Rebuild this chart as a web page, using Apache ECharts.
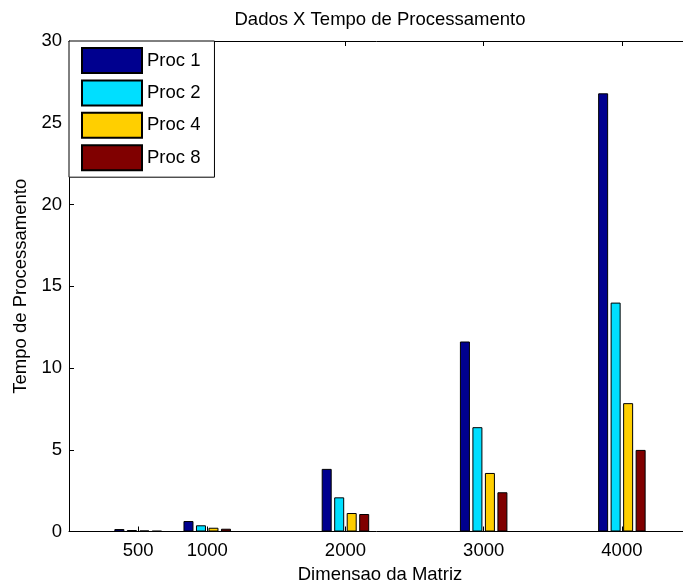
<!DOCTYPE html>
<html>
<head>
<meta charset="utf-8">
<script src="https://cdn.jsdelivr.net/npm/echarts@6/dist/echarts.min.js"></script>
<style>html,body{margin:0;padding:0;background:#fff;overflow:hidden}#c{width:683px;height:584px}</style>
</head>
<body>
<div id="c"></div>
<script>
const dims = [500, 1000, 2000, 3000, 4000];
const seriesNames = ['Proc 1', 'Proc 2', 'Proc 4', 'Proc 8'];
const proc1 = [0.15, 0.64, 3.83, 11.62, 26.8];
const proc2 = [0.09, 0.38, 2.09, 6.38, 14.0];
const proc4 = [0.06, 0.23, 1.13, 3.58, 7.85];
const proc8 = [0.04, 0.17, 1.07, 2.40, 4.99];
const colors = ['#00008F', '#00DFFF', '#FFCF00', '#800000'];

const FONT = 'Liberation Sans, Arial, sans-serif';
const FS = 18.5;
const chart = echarts.init(document.getElementById('c'), null, {renderer: 'canvas'});
const all = [proc1, proc2, proc4, proc8];
const series = all.map((vals, i) => ({
  name: seriesNames[i],
  type: 'bar',
  xAxisIndex: 0, yAxisIndex: 0,
  data: dims.map((d, j) => [d, vals[j]]),
  barWidth: 10,
  barGap: '25%',
  itemStyle: {color: colors[i], borderColor: '#000', borderWidth: 1},
  emphasis: {disabled: true},
  animation: false
}));
const axisLineStyle = {color: '#000', width: 1};
chart.setOption({
  animation: false,
  textStyle: {fontFamily: FONT},
  title: {
    text: 'Dados X Tempo de Processamento',
    left: 380, top: 10, padding: 0, textAlign: 'center',
    textStyle: {fontSize: FS, fontWeight: 'normal', color: '#000', fontFamily: FONT}
  },
  legend: {
    orient: 'vertical', left: 69, top: 41,
    padding: [6, 14, 6, 12],
    itemWidth: 60, itemHeight: 25, itemGap: 5.4,
    backgroundColor: '#fff', borderColor: '#000', borderWidth: 1, borderRadius: 0,
    icon: 'rect',
    textStyle: {fontSize: FS, color: '#000', fontFamily: FONT},
    data: seriesNames
  },
  grid: {left: 69, width: 622, top: 41, height: 490.5, outerBoundsMode: 'none', containLabel: false},
  xAxis: [{
    type: 'value', min: 0, max: 4500, position: 'bottom',
    name: 'Dimensao da Matriz', nameLocation: 'middle', nameGap: 32,
    nameTextStyle: {fontSize: FS, color: '#000', fontFamily: FONT},
    axisLine: {show: true, lineStyle: axisLineStyle},
    axisTick: {show: true, inside: true, length: 5, customValues: dims, lineStyle: axisLineStyle},
    axisLabel: {show: true, margin: 10, customValues: dims, formatter: v => String(v), fontSize: FS, color: '#000', fontFamily: FONT},
    splitLine: {show: false}
  }, {
    type: 'value', min: 0, max: 4500, position: 'top',
    axisLine: {show: true, onZero: false, lineStyle: axisLineStyle},
    axisTick: {show: true, inside: true, length: 5, customValues: dims, lineStyle: axisLineStyle},
    axisLabel: {show: false},
    splitLine: {show: false}
  }],
  yAxis: [{
    type: 'value', min: 0, max: 30, interval: 5, position: 'left',
    name: 'Tempo de Processamento', nameLocation: 'middle', nameGap: 35, nameRotate: 90,
    nameTextStyle: {fontSize: FS, color: '#000', fontFamily: FONT},
    axisLine: {show: true, lineStyle: axisLineStyle},
    axisTick: {show: true, inside: true, length: 5, lineStyle: axisLineStyle},
    axisLabel: {margin: 7, fontSize: FS, color: '#000', fontFamily: FONT},
    splitLine: {show: false}
  }],
  series: series
});
</script>
</body>
</html>
